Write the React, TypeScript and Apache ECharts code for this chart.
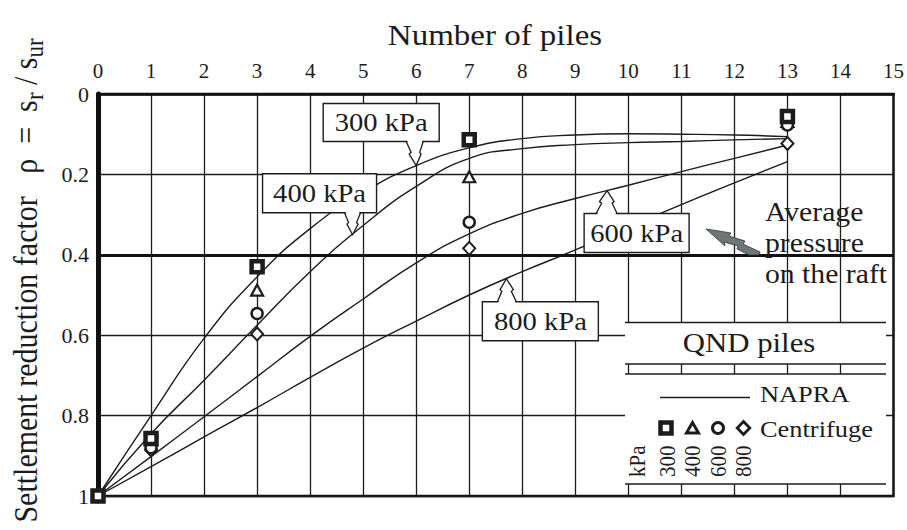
import React, { useEffect, useRef } from 'react';
import * as echarts from 'echarts';

// ---------- data ----------
const napraPiles = [0, 1, 2, 3, 4, 5, 6, 7, 8, 9, 10, 11, 12, 13];
const napra300 = [1, 0.8, 0.608, 0.455, 0.335, 0.245, 0.178, 0.134, 0.111, 0.102, 0.099, 0.1, 0.102, 0.106];
const napra400 = [1, 0.845, 0.712, 0.575, 0.442, 0.327, 0.23, 0.16, 0.136, 0.126, 0.121, 0.118, 0.114, 0.111];
const napra600 = [1, 0.902, 0.803, 0.703, 0.603, 0.51, 0.42, 0.348, 0.297, 0.26, 0.227, 0.193, 0.16, 0.127];
const napra800 = [1, 0.927, 0.853, 0.78, 0.705, 0.632, 0.565, 0.5, 0.442, 0.388, 0.331, 0.275, 0.221, 0.168];

const centrifugePiles = [0, 1, 3, 7, 13];
const centrifuge300 = [1, 0.857, 0.43, 0.114, 0.056];
const centrifuge400 = [1, 0.86, 0.488, 0.206, 0.068];
const centrifuge600 = [1, 0.88, 0.546, 0.319, 0.077];
const centrifuge800 = [1, 0.885, 0.597, 0.384, 0.123];

const pileAxisMin = 0;
const pileAxisMax = 15;
const pileAxisStep = 1;
const rhoAxisMin = 0;
const rhoAxisMax = 1;
const rhoAxisStep = 0.2;

const averagePressureRho = 0.4;

const calloutLabels = ['300 kPa', '400 kPa', '600 kPa', '800 kPa'];
const calloutPiles = [6, 4.8, 9.6, 7.7];

const pressureLabels = ['300', '400', '600', '800'];

// ---------- style ----------
const FONT = '"Liberation Serif", "Times New Roman", Times, serif';
const INK = '#1c1c1c';

function pairs(xs: number[], ys: number[]) {
  return xs.map((x, i) => [x, ys[i]]);
}

function interp(xs: number[], ys: number[], x: number) {
  for (let i = 0; i < xs.length - 1; i++) {
    if (x >= xs[i] && x <= xs[i + 1]) {
      const t = (x - xs[i]) / (xs[i + 1] - xs[i]);
      return ys[i] + t * (ys[i + 1] - ys[i]);
    }
  }
  return ys[ys.length - 1];
}

function txt(x: number, y: number, text: string, size: number, align = 'left', extra: any = {}) {
  return {
    type: 'text',
    x,
    y,
    scaleX: 1.1,
    z: 40,
    silent: true,
    ...extra,
    style: {
      text,
      fill: INK,
      fontSize: size,
      fontFamily: FONT,
      align,
      verticalAlign: 'middle',
    },
  };
}

const calloutLayout = [
  { l: -93, r: 23, t: -62, b: -24, b0: -10, b1: 7 },
  { l: -90, r: 24, t: -61, b: -22, b0: -8, b1: 8 },
  { l: -23, r: 82, t: 23, b: 62, b0: -11, b1: 10 },
  { l: -24, r: 92, t: 23, b: 62, b0: -9, b1: 10 },
];

function buildGraphics(chart: any) {
  const els: any[] = [];
  const curves = [napra300, napra400, napra600, napra800];
  calloutLabels.forEach((label, i) => {
    const px = calloutPiles[i];
    const rho = interp(napraPiles, curves[i], px);
    const [tx, ty] = chart.convertToPixel({ gridIndex: 0 }, [px, rho]);
    const L = calloutLayout[i];
    const x0 = tx + L.l, x1 = tx + L.r, y0 = ty + L.t, y1 = ty + L.b;
    const up = L.t > 0;
    const edge = up ? y0 : y1;
    const h = ty - edge;
    const bl = tx + L.b0, br = tx + L.b1;
    const pts = [
      [bl, edge],
      [bl + (tx - bl) * 0.5, edge + h * 0.45],
      [bl + (tx - bl) * 0.3, edge + h * 0.52],
      [tx, ty],
      [br - (br - tx) * 0.3, edge + h * 0.52],
      [br - (br - tx) * 0.5, edge + h * 0.45],
      [br, edge],
    ];
    const inward = edge - Math.sign(h) * 1.6;
    const fillPts = pts.map((p, k) => (k === 0 ? [p[0] + 0.8, inward] : k === pts.length - 1 ? [p[0] - 0.8, inward] : p));
    els.push({
      type: 'rect', z: 20, silent: true,
      shape: { x: x0, y: y0, width: x1 - x0, height: y1 - y0 },
      style: { fill: '#fff', stroke: INK, lineWidth: 1.4 },
    });
    els.push({ type: 'polygon', z: 21, silent: true, shape: { points: fillPts }, style: { fill: '#fff' } });
    els.push({ type: 'polyline', z: 22, silent: true, shape: { points: pts }, style: { stroke: INK, lineWidth: 1.3, fill: null } });
    els.push(txt((x0 + x1) / 2, (y0 + y1) / 2, label, 26, 'center', { z: 23 }));
  });

  // axis titles
  els.push(txt(495, 35, 'Number of piles', 30, 'center'));
  els.push({
    type: 'text', x: 26, y: 280.5, rotation: Math.PI / 2, scaleY: 1.1, z: 40, silent: true,
    style: {
      text: '{a|Settlement reduction factor   ρ  =  s}{s|r}{a| / s}{s|ur}',
      fill: INK, fontFamily: FONT, fontSize: 30, align: 'center', verticalAlign: 'middle',
      rich: {
        a: { fontSize: 30, fontFamily: FONT, fill: INK, lineHeight: 38 },
        s: { fontSize: 23, fontFamily: FONT, fill: INK, lineHeight: 23, verticalAlign: 'bottom' },
      },
    },
  });

  // average pressure annotation
  els.push(txt(765, 212, 'Average', 27));
  els.push(txt(765, 242.5, 'pressure', 27));
  els.push(txt(765, 274, 'on the raft', 27));
  els.push({
    type: 'polygon', z: 30, silent: true,
    shape: {
      points: [[706, 229], [719, 231], [731, 233], [729, 236], [745, 241], [743, 244], [760, 252],
        [759, 255], [749, 255], [737, 249], [738, 246], [724, 242], [725, 246]],
    },
    style: { fill: '#6f7678', stroke: '#333', lineWidth: 0.8 },
  });

  // legend box
  const lx0 = 625, lx1 = 886;
  els.push({ type: 'rect', z: 30, silent: true, shape: { x: lx0, y: 322.5, width: lx1 - lx0, height: 41.5 }, style: { fill: '#fff' } });
  els.push({ type: 'rect', z: 30, silent: true, shape: { x: lx0, y: 374, width: lx1 - lx0, height: 110 }, style: { fill: '#fff' } });
  [322.5, 364, 374, 484].forEach((y) => {
    els.push({ type: 'line', z: 31, silent: true, shape: { x1: lx0, y1: y, x2: lx1, y2: y }, style: { stroke: INK, lineWidth: 1.4 } });
  });
  els.push(txt(749, 342.5, 'QND piles', 28, 'center'));
  els.push({ type: 'line', z: 31, silent: true, shape: { x1: 660, y1: 397.5, x2: 750, y2: 397.5 }, style: { stroke: INK, lineWidth: 1.5 } });
  els.push(txt(760, 394, 'NAPRA', 24));
  els.push(txt(760, 428.5, 'Centrifuge', 24));
  els.push({ type: 'rect', z: 32, silent: true, shape: { x: 660.5, y: 422.5, width: 11, height: 11 }, style: { fill: '#fff', stroke: INK, lineWidth: 4.5 } });
  els.push({ type: 'polygon', z: 32, silent: true, shape: { points: [[692.5, 422.5], [686.5, 433], [698.5, 433]] }, style: { fill: '#fff', stroke: INK, lineWidth: 3 } });
  els.push({ type: 'circle', z: 32, silent: true, shape: { cx: 718, cy: 428, r: 5.5 }, style: { fill: '#fff', stroke: INK, lineWidth: 3 } });
  els.push({ type: 'polygon', z: 32, silent: true, shape: { points: [[743.5, 421.5], [749.8, 428], [743.5, 434.5], [737.2, 428]] }, style: { fill: '#fff', stroke: INK, lineWidth: 2.8 } });
  const rotX = [667, 692.5, 718, 743.5];
  els.push({
    type: 'text', x: 637, y: 477, rotation: Math.PI / 2, scaleY: 1.1, z: 33, silent: true,
    style: { text: 'kPa', fill: INK, fontSize: 21, fontFamily: FONT, align: 'left', verticalAlign: 'middle' },
  });
  pressureLabels.forEach((t, i) => {
    els.push({
      type: 'text', x: rotX[i], y: 477, rotation: Math.PI / 2, scaleY: 1.1, z: 33, silent: true,
      style: { text: t, fill: INK, fontSize: 21, fontFamily: FONT, align: 'left', verticalAlign: 'middle' },
    });
  });
  return els;
}

const napraLine = (name: string, ys: number[], extra: any = {}) => ({
  name,
  type: 'line',
  data: pairs(napraPiles, ys),
  showSymbol: false,
  smooth: 0.5,
  silent: true,
  z: 3,
  lineStyle: { color: INK, width: 1.4 },
  ...extra,
});

const centrifugeSeries = (name: string, ys: number[], symbol: string, size: any, bw: number, z: number) => ({
  name,
  type: 'scatter',
  data: pairs(centrifugePiles, ys),
  symbol,
  symbolSize: size,
  silent: true,
  z,
  itemStyle: { color: '#fff', borderColor: INK, borderWidth: bw, opacity: 1 },
});

const option: any = {
  animation: false,
  backgroundColor: '#fff',
  grid: { left: 98, top: 94, right: 11, bottom: 34, show: true, borderColor: '#111', borderWidth: 2.5, backgroundColor: 'transparent' },
  xAxis: {
    type: 'value',
    position: 'top',
    min: pileAxisMin,
    max: pileAxisMax,
    interval: pileAxisStep,
    axisLine: { show: true, onZero: false, lineStyle: { color: '#111', width: 2.5 } },
    axisTick: { show: false },
    axisLabel: { color: INK, fontSize: 21, fontFamily: FONT, margin: 13 },
    splitLine: { show: true, lineStyle: { color: INK, width: 1.3 } },
  },
  yAxis: {
    type: 'value',
    inverse: true,
    min: rhoAxisMin,
    max: rhoAxisMax,
    interval: rhoAxisStep,
    axisLine: { show: true, onZero: false, lineStyle: { color: '#111', width: 5 } },
    axisTick: { show: false },
    axisLabel: { color: INK, fontSize: 22, fontFamily: FONT, margin: 9 },
    splitLine: { show: true, lineStyle: { color: INK, width: 1.3 } },
  },
  series: [
    napraLine('NAPRA 300 kPa', napra300, {
      markLine: {
        silent: true,
        symbol: ['none', 'none'],
        label: { show: false },
        lineStyle: { color: '#111', width: 3, type: 'solid' },
        data: [{ yAxis: averagePressureRho }],
      },
    }),
    napraLine('NAPRA 400 kPa', napra400),
    napraLine('NAPRA 600 kPa', napra600),
    napraLine('NAPRA 800 kPa', napra800),
    centrifugeSeries('Centrifuge 400 kPa', centrifuge400, 'triangle', [12, 11], 2.2, 6),
    centrifugeSeries('Centrifuge 800 kPa', centrifuge800, 'diamond', [12, 13], 2, 6),
    centrifugeSeries('Centrifuge 600 kPa', centrifuge600, 'circle', 11, 2.5, 7),
    centrifugeSeries('Centrifuge 300 kPa', centrifuge300, 'rect', 11, 4.5, 8),
  ],
};

export default function App() {
  const ref = useRef<HTMLDivElement>(null);
  useEffect(() => {
    const chart = echarts.init(ref.current as HTMLDivElement, null, { renderer: 'svg' });
    chart.setOption(option);
    chart.setOption({ graphic: { elements: buildGraphics(chart) } });
    return () => chart.dispose();
  }, []);
  return (
    <div
      ref={ref}
      style={{ position: 'fixed', left: 0, top: 0, width: 907, height: 530, background: '#fff' }}
    />
  );
}
